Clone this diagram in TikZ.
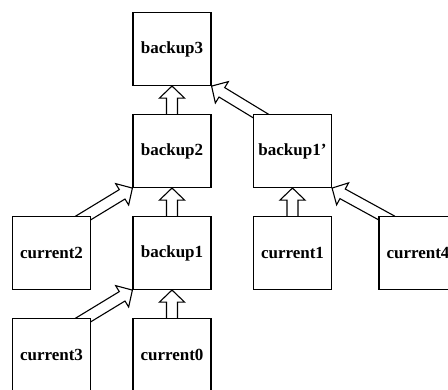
\documentclass[tikz,border=0pt]{standalone}
\usepackage{fontspec}
\setmainfont{Liberation Serif}
\usetikzlibrary{calc}
\tikzset{
  box/.style={draw, fill=white, line width=1.1pt, rectangle, minimum width=78pt, minimum height=73pt,
    inner sep=0pt, font=\fontsize{17}{17}\selectfont\bfseries},
  hollowarrow/.style={draw, fill=white, line width=1.1pt, line join=miter}
}
\newcommand\hollowarrow[2]{%
  \path[hollowarrow] let \p1=(#1), \p2=(#2), \n1={atan2(\y2-\y1,\x2-\x1)}, \n2={veclen(\x2-\x1,\y2-\y1)} in
    ([shift={(\p1)},rotate=\n1]-10pt,5.5pt)
    -- ([shift={(\p1)},rotate=\n1]{\n2*1pt-12pt},5.5pt)
    -- ([shift={(\p1)},rotate=\n1]{\n2*1pt-12pt},12.5pt)
    -- ([shift={(\p1)},rotate=\n1]{\n2*1pt},0pt)
    -- ([shift={(\p1)},rotate=\n1]{\n2*1pt-12pt},-12.5pt)
    -- ([shift={(\p1)},rotate=\n1]{\n2*1pt-12pt},-5.5pt)
    -- ([shift={(\p1)},rotate=\n1]-10pt,-5.5pt) -- cycle;%
}
\begin{document}
\begin{tikzpicture}[x=1pt, y=-1pt]
\useasboundingbox (0,0) rectangle (448,389);
\clip (0,0) rectangle (448,389);
% node positions (coordinates only, boxes drawn after arrows)
\path
  (172,49) coordinate (pb3)
  (172,151) coordinate (pb2)
  (172,253) coordinate (pb1)
  (172,355) coordinate (pc0)
  (51.5,253) coordinate (pc2)
  (51.5,355) coordinate (pc3)
  (292.5,151) coordinate (pb1p)
  (292.5,253) coordinate (pc1)
  (418,253) coordinate (pc4);
% invisible placeholders to get anchors
\begin{scope}[box/.append style={draw=none, fill=none}]
  \node[box] (b3)  at (pb3) {};
  \node[box] (b2)  at (pb2) {};
  \node[box] (b1)  at (pb1) {};
  \node[box] (c0)  at (pc0) {};
  \node[box] (c2)  at (pc2) {};
  \node[box] (c3)  at (pc3) {};
  \node[box] (b1p) at (pb1p) {};
  \node[box] (c1)  at (pc1) {};
  \node[box] (c4)  at (pc4) {};
\end{scope}
% arrows
\hollowarrow{b2.north}{b3.south}
\hollowarrow{b1.north}{b2.south}
\hollowarrow{c0.north}{b1.south}
\hollowarrow{c1.north}{b1p.south}
\hollowarrow{$(c2.north east)+(-4.5,0)$}{b2.south west}
\hollowarrow{$(c3.north east)+(-4.5,0)$}{b1.south west}
\hollowarrow{$(b1p.north west)+(4.5,0)$}{b3.south east}
\hollowarrow{$(c4.north west)+(4.5,0)$}{b1p.south east}
% boxes
\node[box] (B3)  at (pb3) {backup3};
\node[box] (B2)  at (pb2) {backup2};
\node[box] (B1)  at (pb1) {backup1};
\node[box] (C0)  at (pc0) {current0};
\node[box] (C2)  at (pc2) {current2};
\node[box] (C3)  at (pc3) {current3};
\node[box] (B1p) at (pb1p) {backup1’};
\node[box] (C1)  at (pc1) {current1};
\node[box] (C4)  at (pc4) {current4};
\end{tikzpicture}
\end{document}
